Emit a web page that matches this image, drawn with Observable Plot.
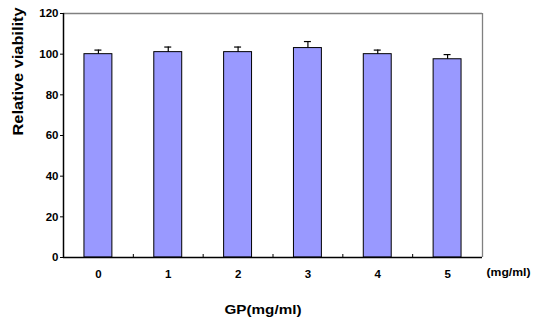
<!DOCTYPE html>
<html>
<head>
<meta charset="utf-8">
<script src="https://cdn.jsdelivr.net/npm/d3@7"></script>
<script src="https://cdn.jsdelivr.net/npm/@observablehq/plot@0.6"></script>
<style>
  html, body { margin: 0; padding: 0; background: #fff; }
  svg { display: block; }
  svg text { font-family: "Liberation Sans", Arial, sans-serif; font-weight: bold; }
</style>
</head>
<body>
<div id="chart"></div>
<script>
const categories = [0, 1, 2, 3, 4, 5];
const viability = [100, 101, 101, 103, 100, 97.5];
const errors = [2, 2.5, 2.5, 3.2, 2, 2.3];
const yTicks = [0, 20, 40, 60, 80, 100, 120];
const boundaries = [0.5, 1.5, 2.5, 3.5, 4.5];
const yLabel = "Relative viability";
const xLabel = "GP(mg/ml)";
const unitLabel = "(mg/ml)";

const data = categories.map((c, i) => ({ c, v: viability[i], e: errors[i] }));
const font = "Liberation Sans, Arial, sans-serif";

const chart = Plot.plot({
  width: 539,
  height: 323,
  marginLeft: 63,
  marginRight: 57,
  marginTop: 13,
  marginBottom: 66,
  style: { fontFamily: font, fontWeight: "bold", fontSize: "11px", background: "#fff", color: "#000" },
  x: { type: "linear", domain: [-0.5, 5.5], axis: null },
  y: { domain: [0, 120], axis: null },
  marks: [
    Plot.ruleY([120], { stroke: "#808080", strokeWidth: 1.3 }),
    Plot.ruleX([5.5], { stroke: "#808080", strokeWidth: 1.3 }),
    Plot.rectY(data, { x1: d => d.c - 0.2, x2: d => d.c + 0.2, y: "v", fill: "#9999ff", stroke: "#000", strokeWidth: 1 }),
    Plot.ruleX(data, { x: "c", y1: "v", y2: d => d.v + d.e, stroke: "#000", strokeWidth: 1.2 }),
    Plot.ruleY(data, { y: d => d.v + d.e, x1: d => d.c - 0.05, x2: d => d.c + 0.05, stroke: "#000", strokeWidth: 1.2 }),
    Plot.ruleY([0], { stroke: "#000", strokeWidth: 1.5 }),
    Plot.ruleX([-0.5], { stroke: "#000", strokeWidth: 1.5 }),
    Plot.axisY({ ticks: yTicks, tickSize: 3, tickPadding: 2, tickFormat: d => String(d), label: null, fontSize: 11.5, fontWeight: "bold" }),
    Plot.axisX({ ticks: boundaries, tickSize: -3, tickFormat: () => "", label: null }),
    Plot.axisX({ ticks: categories, tickSize: 0, tickPadding: 12, tickFormat: d => String(d), label: null, fontSize: 11.5, fontWeight: "bold" }),
    Plot.text([yLabel], { text: d => d, frameAnchor: "left", dx: -45, rotate: -90, fontSize: 14, fontWeight: "bold" }),
    Plot.text([xLabel], { text: d => d, frameAnchor: "bottom", dx: -10, dy: 56, fontSize: 13, fontWeight: "bold" }),
    Plot.text([unitLabel], { text: d => d, frameAnchor: "bottom-right", textAnchor: "start", dx: 4, dy: 18, fontSize: 11, fontWeight: "bold" })
  ]
});

document.getElementById("chart").appendChild(chart);

// stretch labels to match the reference's text widths
const stretch = { [yLabel]: 128, [xLabel]: 77, [unitLabel]: 44 };
chart.querySelectorAll("text").forEach(t => {
  const s = stretch[t.textContent];
  if (s) {
    t.setAttribute("textLength", s);
    t.setAttribute("lengthAdjust", "spacingAndGlyphs");
  }
});
</script>
</body>
</html>
